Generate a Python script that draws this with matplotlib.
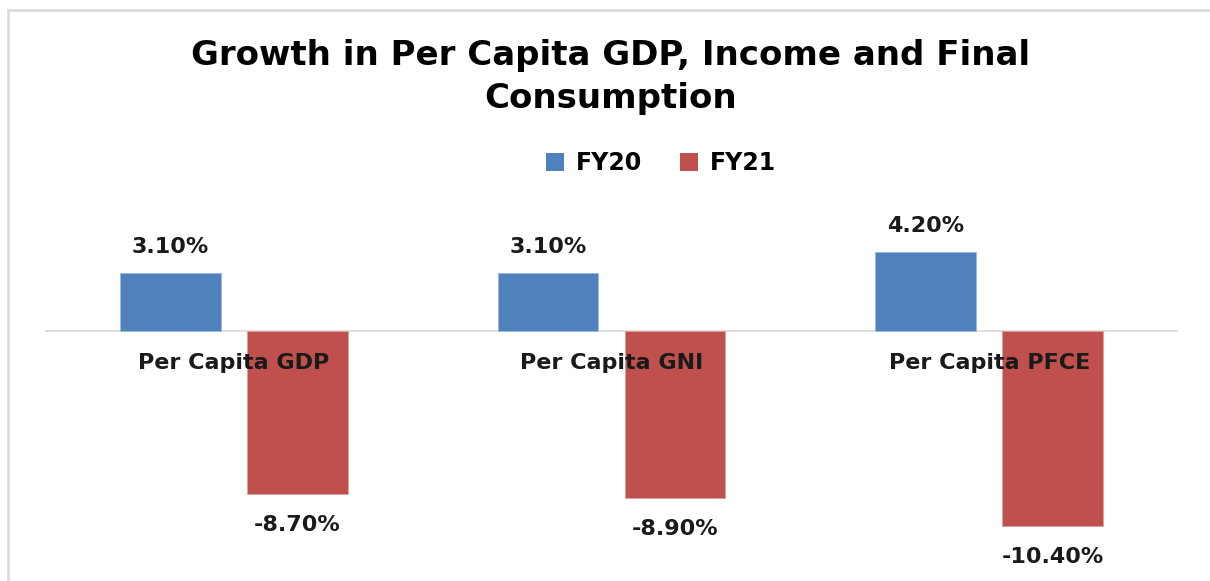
import numpy as np
import matplotlib.pyplot as plt
from matplotlib.lines import Line2D
from matplotlib.patches import Patch

categories = ["Per Capita GDP", "Per Capita GNI", "Per Capita PFCE"]
series_names = ["FY20", "FY21"]
fy20 = [3.1, 3.1, 4.2]
fy21 = [-8.7, -8.9, -10.4]
colors = ["#4F81BD", "#C0504D"]

W, H = 1210, 581
fig = plt.figure(figsize=(W / 100, H / 100), dpi=100)
fig.patch.set_facecolor("white")

# axes placed in pixel space: zero line at y=331, ~18.75 px per percent
top_px, bot_px, zero_px, scale = 200, 575, 331, 18.75
ax = fig.add_axes([45 / W, (H - bot_px) / H, 1133 / W, (bot_px - top_px) / H])
ax.set_xlim(-0.5, 2.5)
ax.set_ylim(-(bot_px - zero_px) / scale, (zero_px - top_px) / scale)
ax.axis("off")

x = np.arange(len(categories))
bw = 0.267
off = 0.168
ax.bar(x - off, fy20, bw, color=colors[0], edgecolor="#9DB9E0", linewidth=0.6)
ax.bar(x + off, fy21, bw, color=colors[1], edgecolor="#E0A09E", linewidth=0.6)
ax.axhline(0, color="#D9D9D9", lw=1.2, zorder=0)

lab = dict(ha="center", va="center", fontsize=16, fontweight="bold", color="#1a1a1a",
           textcoords="offset pixels")
for xi, v in zip(x - off, fy20):
    ax.annotate(f"{v:.2f}%", (xi, v), xytext=(0, 26), **lab)
for xi, v in zip(x + off, fy21):
    ax.annotate(f"{v:.2f}%", (xi, v), xytext=(0, -31), **lab)
for xi, c in zip(x, categories):
    ax.annotate(c, (xi, 0), xytext=(0, -32), **lab)

fig.text(611 / W, 1 - 77 / H, "Growth in Per Capita GDP, Income and Final\nConsumption",
         ha="center", va="center", fontsize=24.5, fontweight="bold", linespacing=1.35)

handles = [Patch(facecolor=colors[0]), Patch(facecolor=colors[1])]
fig.legend(handles, series_names, loc="center", bbox_to_anchor=(661 / W, 1 - 163 / H),
           ncol=2, frameon=False, prop={"weight": "bold", "size": 17},
           handlelength=0.78, handleheight=0.78, columnspacing=1.6, handletextpad=0.5)

# chart frame (only top and left edges visible)
fig.add_artist(Line2D([8 / W, 8 / W], [0, 1 - 10 / H], color="#D9D9D9", lw=1.8))
fig.add_artist(Line2D([8 / W, 1], [1 - 10 / H, 1 - 10 / H], color="#D9D9D9", lw=1.8))

fig.savefig("out.png", dpi=100)
